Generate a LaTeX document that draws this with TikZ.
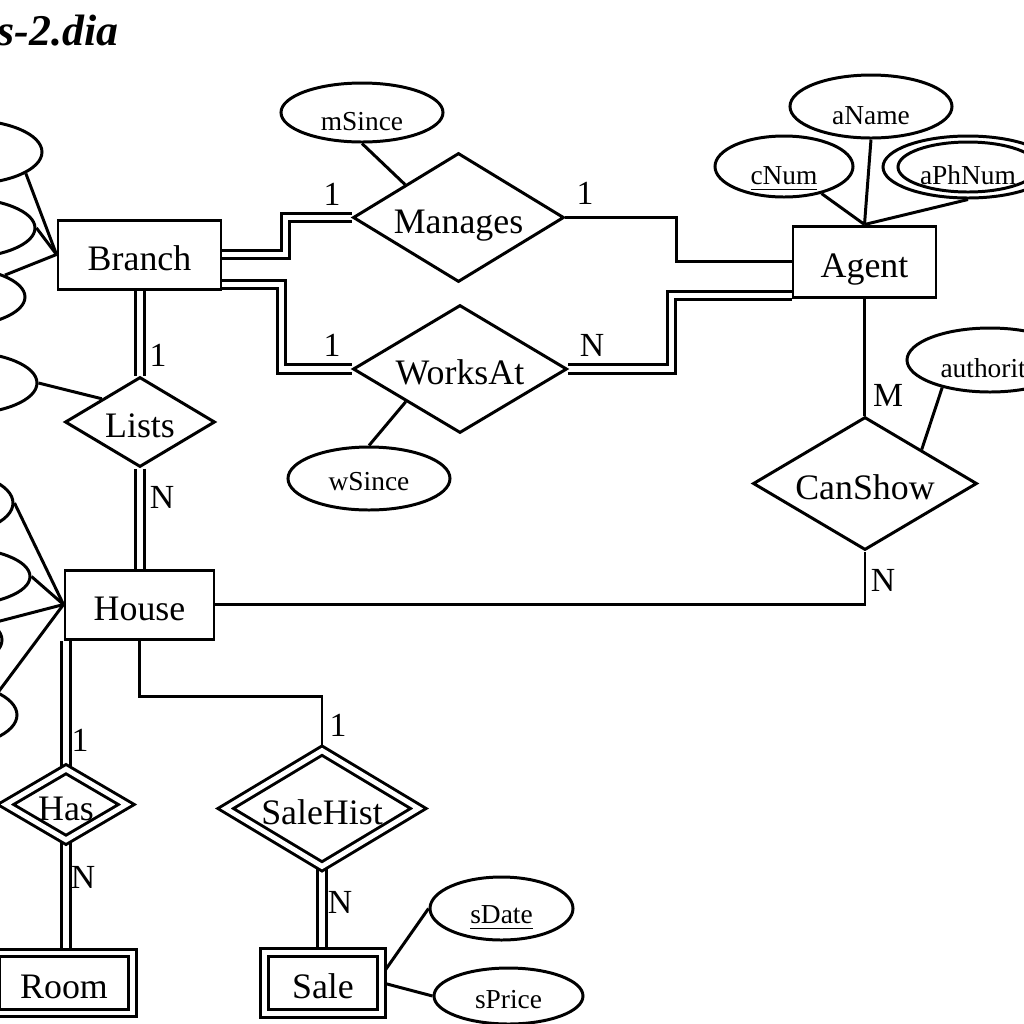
\documentclass[tikz,border=0pt]{standalone}
\usepackage{fontspec}
\setmainfont{Liberation Serif}
\usetikzlibrary{positioning,calc,backgrounds,shapes.geometric}
\pgfdeclarelayer{paper}
\pgfsetlayers{paper,background,main}
\definecolor{ink}{HTML}{000000}
\tikzset{
  entitybox/.style={
    rectangle,
    draw=ink,
    line width=0.85pt,
    inner sep=0pt,
    text height=0.9em,
    text depth=0pt,
    font=\fontsize{10.2}{12}\selectfont
  },
  weakbox/.style={entitybox,double,double distance=1.4pt},
  relbox/.style={
    diamond,
    draw=ink,
    line width=0.85pt,
    inner sep=0pt,
    shape aspect=1.65,
    text height=0.9em,
    text depth=0pt,
    font=\fontsize{10.2}{12}\selectfont
  },
  weakrel/.style={relbox,double,double distance=1.4pt},
  attrbox/.style={ellipse,draw=ink,line width=0.85pt,inner sep=0pt,text height=1.0em,text depth=0pt,font=\fontsize{7.8}{9}\selectfont},
  cardlabel/.style={inner sep=0pt,font=\fontsize{9.6}{11}\selectfont},
  link/.style={draw=ink,line width=0.85pt},
  totallink/.style={link,double,double distance=1.7pt}
}

\begin{document}
\begin{tikzpicture}[x=1cm,y=-1cm]
  \useasboundingbox (0,0) rectangle (10.24,10.24);
  \begin{pgfonlayer}{paper}
    \fill[white] (0,0) rectangle (10.24,10.24);
  \end{pgfonlayer}
  \clip (0,0) rectangle (10.24,10.24);

  \node[anchor=base east, inner sep=0pt, font=\fontsize{12.5}{14}\selectfont\bfseries\itshape] (title) at (1.19,0.45) {s-2.dia};

  % entities
  \node[entitybox, minimum width=1.63cm, minimum height=0.69cm] (branch) at (1.395,2.545) {Branch};
  \node[entitybox, minimum width=1.43cm, minimum height=0.71cm] (agent) at (8.645,2.615) {Agent};
  \node[entitybox, minimum width=1.49cm, minimum height=0.69cm] (house) at (1.395,6.045) {House};
  \node[weakbox, minimum width=1.37cm, minimum height=0.60cm] (room) at (0.64,9.83) {Room};
  \node[weakbox, minimum width=1.175cm, minimum height=0.615cm] (sale) at (3.23,9.83) {Sale};

  % relationships
  \node[relbox, minimum width=2.11cm, minimum height=1.29cm] (manages) at (4.585,2.175) {Manages};
  \node[relbox, minimum width=2.14cm, minimum height=1.28cm] (worksat) at (4.60,3.69) {WorksAt};
  \node[relbox, minimum width=1.50cm, minimum height=0.90cm] (lists) at (1.40,4.22) {Lists};
  \node[relbox, minimum width=2.24cm, minimum height=1.33cm] (canshow) at (8.65,4.835) {CanShow};
  \node[weakrel, minimum width=1.22cm, minimum height=0.72cm] (has) at (0.66,8.045) {Has};
  \node[weakrel, minimum width=1.94cm, minimum height=1.17cm] (salehist) at (3.22,8.085) {SaleHist};

  % attributes
  \node[attrbox, minimum width=1.62cm, minimum height=0.59cm] (msince) at (3.62,1.125) {mSince};
  \node[attrbox, minimum width=1.62cm, minimum height=0.63cm, text height=0.7em] (wsince) at (3.69,4.785) {wSince};
  \node[attrbox, minimum width=1.62cm, minimum height=0.63cm] (aname) at (8.71,1.065) {aName};
  \node[attrbox, minimum width=1.38cm, minimum height=0.61cm] (cnum) at (7.84,1.665) {\underline{cNum}};
  \node[attrbox, minimum width=1.70cm, minimum height=0.62cm] (aphnum) at (9.68,1.67) {};
  \node[attrbox, minimum width=1.40cm, minimum height=0.50cm] (aphnumin) at (9.68,1.67) {aPhNum};
  \node[attrbox, minimum width=1.66cm, minimum height=0.64cm] (authority) at (9.90,3.60) {authority};
  \node[attrbox, minimum width=1.43cm, minimum height=0.63cm, text height=0.85em] (sdate) at (5.015,9.085) {\underline{sDate}};
  \node[attrbox, minimum width=1.49cm, minimum height=0.56cm, text height=0.7em] (sprice) at (5.085,9.96) {sPrice};

  % attributes cut by the left edge
  \node[attrbox, minimum width=1.50cm, minimum height=0.64cm] (branchattrA) at (-0.33,1.52) {};
  \node[attrbox, minimum width=1.50cm, minimum height=0.60cm] (branchattrB) at (-0.40,2.28) {};
  \node[attrbox, minimum width=1.50cm, minimum height=0.60cm] (branchattrC) at (-0.50,2.97) {};
  \node[attrbox, minimum width=1.50cm, minimum height=0.62cm] (listsattr) at (-0.38,3.83) {};
  \node[attrbox, minimum width=1.50cm, minimum height=0.66cm] (houseattrA) at (-0.62,5.03) {};
  \node[attrbox, minimum width=1.50cm, minimum height=0.58cm] (houseattrB) at (-0.45,5.765) {};
  \node[attrbox, minimum width=1.50cm, minimum height=0.62cm] (houseattrC) at (-0.73,6.40) {};
  \node[attrbox, minimum width=1.50cm, minimum height=0.66cm] (houseattrD) at (-0.58,7.15) {};
  \coordinate (houseattrE) at (-0.30,7.30);

  % cardinalities
  \node[cardlabel] (cmanL) at (3.32,1.94) {1};
  \node[cardlabel] (cmanR) at (5.85,1.93) {1};
  \node[cardlabel] (cworkL) at (3.32,3.45) {1};
  \node[cardlabel] (cworkR) at (5.92,3.45) {N};
  \node[cardlabel] (clistT) at (1.58,3.55) {1};
  \node[cardlabel] (clistB) at (1.62,4.97) {N};
  \node[cardlabel] (chasT) at (0.80,7.40) {1};
  \node[cardlabel] (chasB) at (0.83,8.77) {N};
  \node[cardlabel] (csaleT) at (3.38,7.25) {1};
  \node[cardlabel] (csaleB) at (3.40,9.02) {N};
  \node[cardlabel] (cshowT) at (8.88,3.95) {M};
  \node[cardlabel] (cshowB) at (8.83,5.80) {N};

  \begin{scope}[on background layer]
    \draw[totallink] (branch.east) -| ($(manages.west)+(-0.66,0)$) -- (manages.west);
    \draw[totallink] ($(branch.east)+(0,0.30)$) -| ($(worksat.west)+(-0.70,0)$) -- (worksat.west);
    \draw[link] (manages.east) -| ($(agent.west)+(-1.15,0)$) -- (agent.west);
    \draw[totallink] (worksat.east) -| ($(agent.west)+(-1.20,0.34)$) -- ($(agent.west)+(0,0.34)$);
    \draw[totallink] (lists.north |- branch.south) -- (lists.north);
    \draw[totallink] (lists.south) -- (lists.south |- house.north);
    \draw[totallink] (has.north |- house.south) -- (has.north);
    \draw[totallink] (has.south) -- (has.south |- room.north);
    \draw[link] (house.south) |- ($(salehist.north)+(0,-0.52)$) -- (salehist.north);
    \draw[totallink] (salehist.south) -- (salehist.south |- sale.north);
    \draw[link] (house.east) -| (canshow.south);
    \draw[link] (agent.south) -- (agent.south |- canshow.north);

    \draw[link] (msince.south) -- ($(manages.west)!0.5!(manages.north)$);
    \draw[link] (wsince.north) -- ($(worksat.west)!0.5!(worksat.south)$);
    \draw[link] (cnum) -- (agent.north);
    \draw[link] (aname.south) -- (agent.north);
    \draw[link] (aphnum.south) -- (agent.north);
    \draw[link] (authority.-150) -- ($(canshow.north)!0.5!(canshow.east)$);
    \draw[link] (sdate.west) -- ($(sale.east)+(0,-0.10)$);
    \draw[link] (sprice.west) -- (sale.east);

    \draw[link] (branchattrA.-20) -- (branch.west);
    \draw[link] (branchattrB.east) -- (branch.west);
    \draw[link] (branchattrC) -- (branch.west);
    \draw[link] (listsattr.east) -- ($(lists.west)!0.5!(lists.north)$);
    \draw[link] (houseattrA.east) -- (house.west);
    \draw[link] (houseattrB.east) -- (house.west);
    \draw[link] (houseattrC) -- (house.west);
    \draw[link] (houseattrE) -- (house.west);
  \end{scope}
\end{tikzpicture}
\end{document}
